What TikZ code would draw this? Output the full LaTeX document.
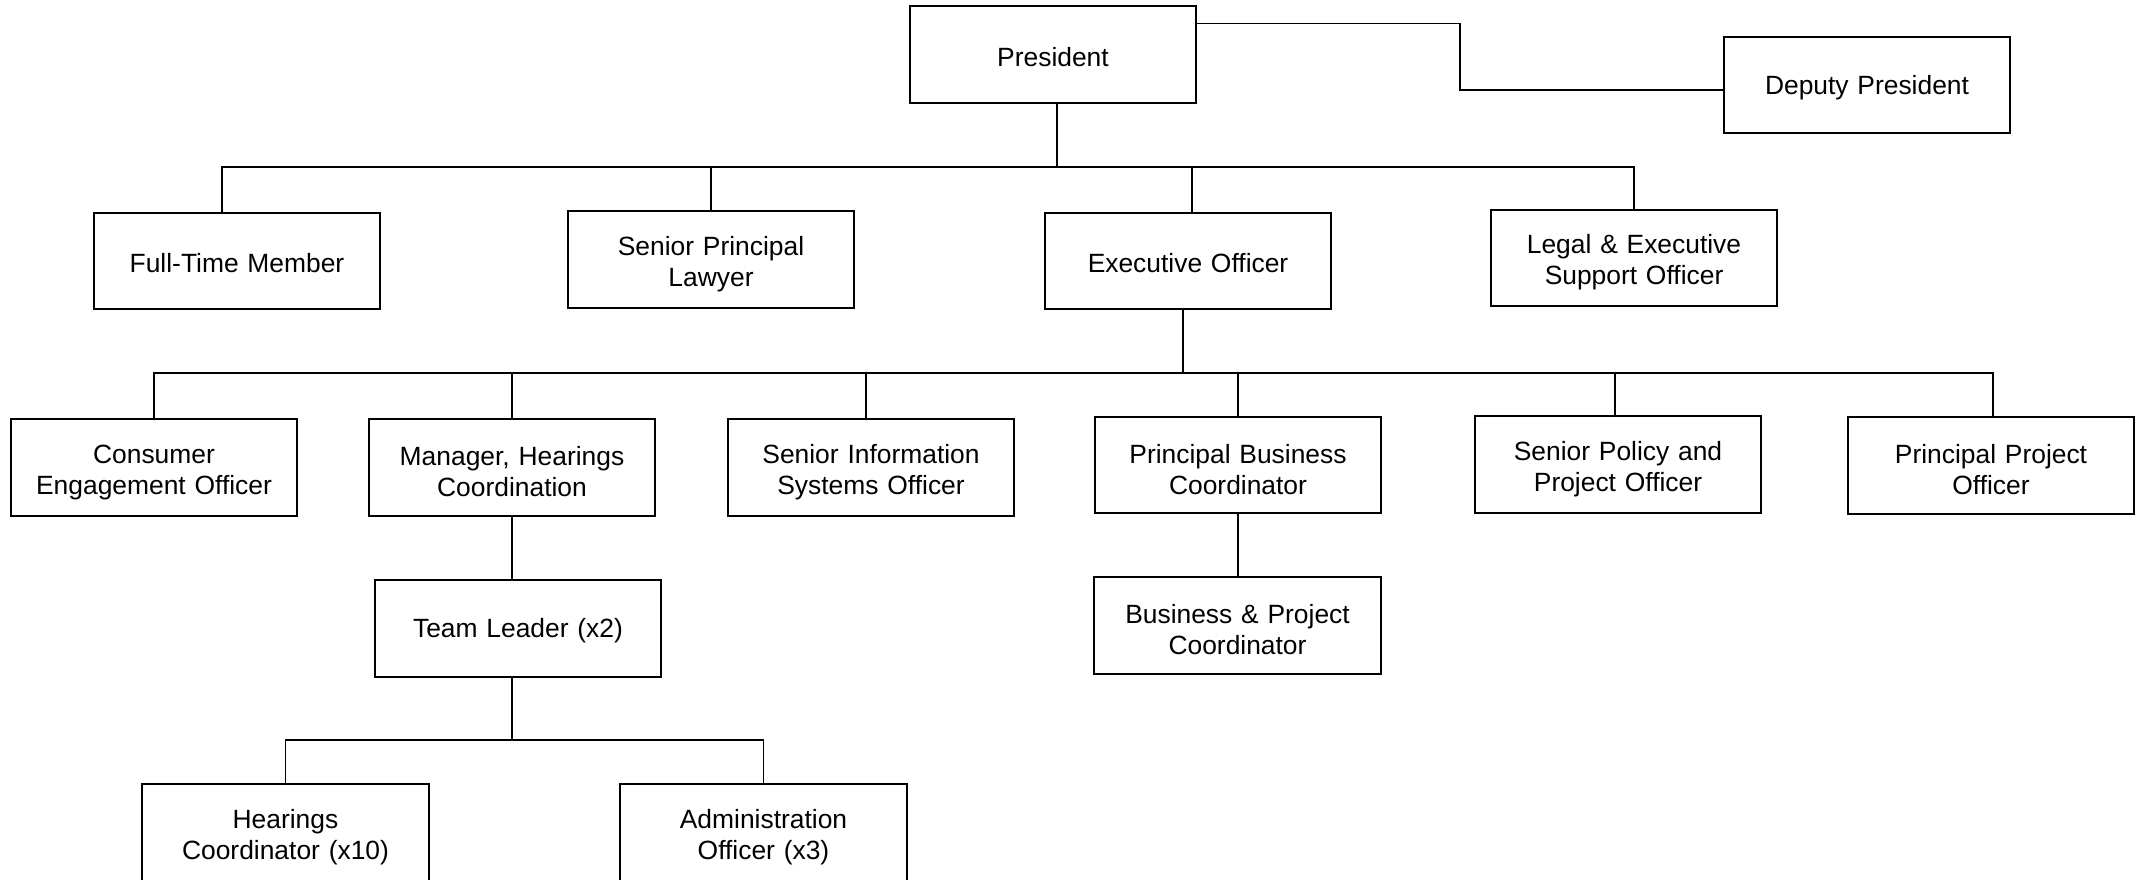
\documentclass[tikz,border=0pt]{standalone}
\usepackage{fontspec}
\setmainfont{Liberation Sans}
\begin{document}
\begin{tikzpicture}[x=1pt,y=-1pt,
  role/.style={draw=black, line width=2pt, fill=white,
    minimum width=286.5pt, minimum height=96.5pt,
    inner sep=0pt, outer sep=0pt, text width=270pt, align=center,
    execute at begin node={\rule{0pt}{23.5pt}},
    font=\fontsize{26.4}{31}\selectfont},
  tworole/.style={role, execute at begin node={\rule{0pt}{27.5pt}}},
  link/.style={draw=black, line width=1.3pt}]
\useasboundingbox (0,0) rectangle (2136,879);

% top level
\node[role] (pres) at (1053,54.5) {President};
\node[role] (dep)  at (1867,85)   {Deputy President};

% second level
\node[role]    (ftm)  at (237,261)    {Full-Time Member};
\node[tworole] (spl)  at (711,259.5)  {Senior Principal\\Lawyer};
\node[role]    (eo)   at (1188,261)   {Executive Officer};
\node[tworole] (leso) at (1634,258)   {Legal \& Executive\\Support Officer};

% third level
\node[tworole] (ceo)  at (154,467.5)  {Consumer\\Engagement Officer};
\node[tworole] (mhc)  at (512,467.5)  {Manager, Hearings\\Coordination};
\node[tworole] (siso) at (871,467.5)  {Senior Information\\Systems Officer};
\node[tworole] (pbc)  at (1238,465)   {Principal Business\\Coordinator};
\node[tworole] (sppo) at (1618,464.5) {Senior Policy and\\Project Officer};
\node[tworole] (ppo)  at (1991,465.5) {Principal Project\\Officer};

% fourth level
\node[role]    (tl)   at (518,628.5)  {Team Leader (x2)};
\node[tworole] (bpc)  at (1237.5,625.5) {Business \& Project\\Coordinator};

% fifth level
\node[tworole] (hc)   at (285.5,832.5) {Hearings\\Coordinator (x10)};
\node[tworole] (ao)   at (763.5,832.5) {Administration\\Officer (x3)};

% President to Deputy President
\coordinate (elbow) at (1460,90);
\draw[link] ([yshift=-17pt]pres.north east) -| (elbow) -- (elbow -| dep.west);

% President to second level
\coordinate (bus1) at (1057,167);
\draw[link] (pres.south -| bus1) -- (bus1);
\draw[link] ([xshift=-15pt]ftm.north) |- (bus1) -| (leso.north);
\draw[link] (spl.north) -- (spl.north |- bus1);
\draw[link] ([xshift=4pt]eo.north) -- ([xshift=4pt]eo.north |- bus1);

% Executive Officer to third level
\coordinate (bus2) at (1183,373);
\draw[link] (eo.south -| bus2) -- (bus2);
\draw[link] (ceo.north) |- (bus2) -| ([xshift=2pt]ppo.north);
\draw[link] (mhc.north) -- (mhc.north |- bus2);
\draw[link] ([xshift=-5pt]siso.north) -- ([xshift=-5pt]siso.north |- bus2);
\draw[link] (pbc.north) -- (pbc.north |- bus2);
\draw[link] ([xshift=-3pt]sppo.north) -- ([xshift=-3pt]sppo.north |- bus2);

% single reports
\draw[link] (mhc.south) -- (mhc.south |- tl.north);
\draw[link] (pbc.south) -- (pbc.south |- bpc.north);

% Team Leader to fifth level
\coordinate (bus3) at (512,740);
\draw[link] (tl.south -| bus3) -- (bus3);
\draw[link] (hc.north) |- (bus3) -| (ao.north);
\end{tikzpicture}
\end{document}
